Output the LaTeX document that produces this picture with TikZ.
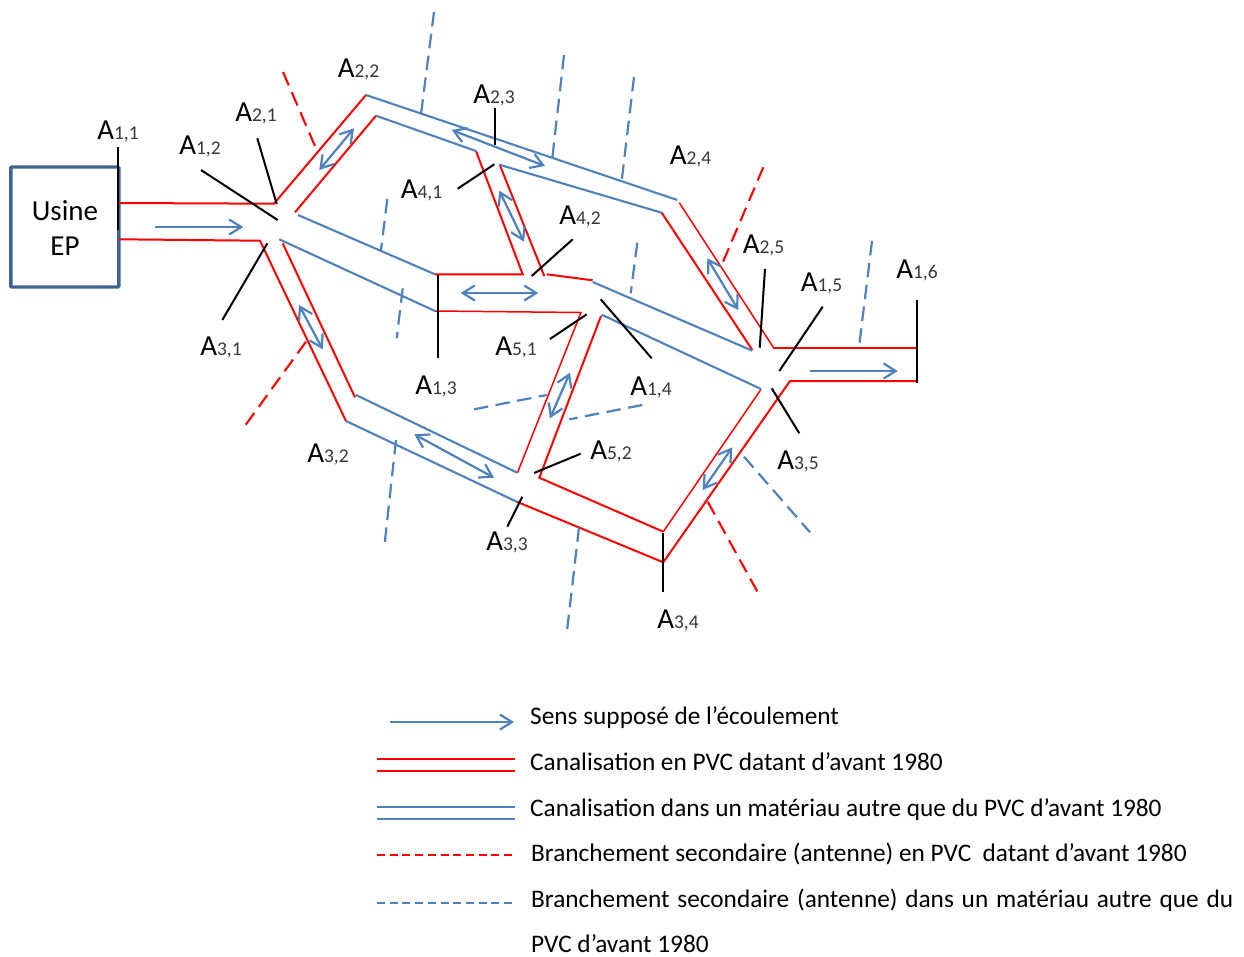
\documentclass[tikz,border=0pt]{standalone}
\usepackage{fontspec}
\setmainfont{Carlito}
\usetikzlibrary{arrows.meta}
\definecolor{pipeblue}{HTML}{4F81BD}
\definecolor{pipered}{HTML}{FF0000}
\definecolor{boxblue}{HTML}{3F6391}
\tikzset{
  redpipe/.style={draw=pipered,line width=2pt},
  thinred/.style={draw=pipered,line width=1.5pt},
  bluepipe/.style={draw=pipeblue,line width=2.1pt},
  reddash/.style={draw=pipered,line width=2.1pt,dash pattern=on 14.5pt off 7.5pt},
  bluedash/.style={draw=pipeblue,line width=2.2pt,dash pattern=on 14.5pt off 7.5pt},
  flowtip/.tip={Straight Barb[length=12pt,width=15pt,line width=2.2pt]},
  flow/.style={draw=pipeblue,line width=2.2pt,-flowtip},
  flowboth/.style={draw=pipeblue,line width=2.2pt,flowtip-flowtip},
  leader/.style={draw=black,line width=2pt},
  lab/.style={inner sep=0pt,font=\fontsize{29}{29}\selectfont},
  legend/.style={anchor=base west,inner sep=0pt,font=\fontsize{25.3}{25.3}\selectfont}
}
\newcommand{\An}[1]{A{\fontsize{19.5}{19.5}\selectfont\color{black!78}#1}}
\begin{document}
\begin{tikzpicture}[x=1pt,y=-1pt]
\useasboundingbox (0,0) rectangle (1244,956);
\fill[white] (0,0) rectangle (1244,956);
% plant
\node[draw=boxblue,line width=3.4pt,minimum width=108pt,minimum height=120pt,inner sep=0pt,rounded corners=1pt] (usine) at (64.8,227) {};
\node[lab,align=center] (usinetxt) at (65,228) {Usine\\[6pt]EP};
% red mains
\path[redpipe] (119,203) -- (274,203.7) -- (366,95);
\path[redpipe] (295,212.3) -- (376,115.7);
\path[redpipe] (119,239.3) -- (260,240.7) -- (346,421);
\path[redpipe] (282.7,243.3) -- (355,397.3);
\path[redpipe] (435,274.3) -- (522.7,274.3) -- (476,151);
\path[redpipe] (499.7,164.7) -- (544.3,276);
\path[redpipe] (546.7,274.3) -- (592.7,280.3);
\path[thinred] (435,311) -- (581,312.5) -- (517.5,472.7);
\path[redpipe] (601,316) -- (539.3,477.7) -- (663.3,531.7);
\path[thinred] (663.3,531.7) -- (761,389.3);
\path[redpipe] (516.7,501.7) -- (663.3,562.3) -- (790,381) -- (916.7,381);
\path[redpipe] (661.7,212.7) -- (752.3,350);
\path[thinred] (679.3,202.7) -- (773.3,347.3);
\path[redpipe] (772.7,347.7) -- (916.7,347.7);
% blue mains
\path[bluepipe] (366,95) -- (677.3,200);
\path[bluepipe] (376,115.7) -- (476,151);
\path[bluepipe] (499.3,164.7) -- (661.7,212.7);
\path[bluepipe] (298,215) -- (435,274.3);
\path[bluepipe] (279.3,239.3) -- (435,311);
\path[bluepipe] (356,395) -- (517.3,472.7);
\path[bluepipe] (346,421) -- (516.7,501.7);
\path[bluepipe] (592.7,282) -- (752.3,350.7);
\path[bluepipe] (601.7,314.7) -- (761,389);
% blue branches
\path[bluedash] (434,12) -- (421,114);
\path[bluedash] (564,55) -- (552.3,158.3);
\path[bluedash] (634,77) -- (621.7,180.7);
\path[bluedash] (387.3,199) -- (381,250);
\path[bluedash] (402.7,288.3) -- (396.7,338.3);
\path[bluedash] (637.3,242.7) -- (630.7,293.3);
\path[bluedash] (872,241) -- (859,347);
\path[bluedash] (396,440) -- (384.7,543.3);
\path[bluedash] (474,409.3) -- (546.7,395);
\path[bluedash] (642.3,405) -- (569.3,419.3);
\path[bluedash] (579,527.3) -- (567,631);
\path[bluedash] (744,456.7) -- (810,532.3);
% red branches
\path[reddash] (283,72) -- (316.7,150);
\path[reddash] (306,341.7) -- (244.3,426.7);
\path[reddash] (763.3,167.3) -- (721.7,265);
\path[reddash] (707.7,501.7) -- (758.3,593.3);
% flow arrows
\path[flow] (155,227) -- (243.3,227);
\path[flow] (810,371) -- (897.7,371);
\path[flowboth] (354,128.3) -- (319.3,170);
\path[flowboth] (299,305) -- (322.7,349.3);
\path[flowboth] (451.7,130) -- (545,166);
\path[flowboth] (499.3,190.7) -- (524,241.7);
\path[flowboth] (460.7,293) -- (538.3,293);
\path[flowboth] (707.3,258.3) -- (738.3,310);
\path[flowboth] (570,372.7) -- (550,418.3);
\path[flowboth] (414.3,434.3) -- (494,477.7);
\path[flowboth] (732.3,447.3) -- (702.7,490);
% leaders
\path[leader] (118.3,147) -- (118.3,230);
\path[leader] (201,170) -- (277.7,220);
\path[leader] (257.3,138.3) -- (276.7,204);
\path[leader] (222.3,320) -- (267.3,243.3);
\path[leader] (495,107.7) -- (495,145);
\path[leader] (457.7,188.7) -- (494.3,164.3);
\path[leader] (572.7,239.3) -- (531.7,276);
\path[leader] (438.3,275) -- (438.3,358.3);
\path[leader] (550,339) -- (586.7,314.3);
\path[leader] (600.7,299.3) -- (651.7,358.3);
\path[leader] (765,269) -- (759.7,347.7);
\path[leader] (822.7,306.7) -- (779.3,371);
\path[leader] (771.7,388.3) -- (799.3,433.3);
\path[leader] (917,300) -- (917,383.3);
\path[leader] (580.7,453.7) -- (534,473);
\path[leader] (522.3,496.7) -- (507.3,526.7);
\path[leader] (663.3,533.3) -- (663.3,591.7);
% labels
\node[lab] (a11) at (118,131.5) {\An{1,1}};
\node[lab] (a12) at (200,146.5) {\An{1,2}};
\node[lab] (a21) at (256,113.5) {\An{2,1}};
\node[lab] (a22) at (358.5,69.5) {\An{2,2}};
\node[lab] (a23) at (494,95.5) {\An{2,3}};
\node[lab] (a24) at (690.5,156.5) {\An{2,4}};
\node[lab] (a41) at (421.5,190.5) {\An{4,1}};
\node[lab] (a42) at (580,216.5) {\An{4,2}};
\node[lab] (a25) at (763.5,245.5) {\An{2,5}};
\node[lab] (a15) at (821.5,283.5) {\An{1,5}};
\node[lab] (a16) at (917,270.5) {\An{1,6}};
\node[lab] (a31) at (221,347.5) {\An{3,1}};
\node[lab] (a13) at (436,386.5) {\An{1,3}};
\node[lab] (a51) at (516,347.5) {\An{5,1}};
\node[lab] (a14) at (651,387.5) {\An{1,4}};
\node[lab] (a32) at (328,454.5) {\An{3,2}};
\node[lab] (a52) at (611,451.5) {\An{5,2}};
\node[lab] (a35) at (798,461.5) {\An{3,5}};
\node[lab] (a33) at (507,542.5) {\An{3,3}};
\node[lab] (a34) at (678,620.5) {\An{3,4}};
% legend
\path[flow] (390,722) -- (514,722);
\path[redpipe] (377,759) -- (515,759);
\path[redpipe] (377,771) -- (515,771);
\path[bluepipe] (377,807) -- (515,807);
\path[bluepipe] (377,819) -- (515,819);
\path[reddash,dash pattern=on 8pt off 4.7pt] (377,855) -- (515,855);
\path[bluedash,dash pattern=on 8pt off 4.7pt] (377,903) -- (515,903);
\node[legend] (l1) at (530,724) {Sens supposé de l’écoulement};
\node[legend] (l2) at (530,770) {Canalisation en PVC datant d’avant 1980};
\node[legend] (l3) at (530,816) {Canalisation dans un matériau autre que du PVC d’avant 1980};
\node[legend] (l4) at (531,861) {Branchement secondaire (antenne) en PVC\ \ datant d’avant 1980};
\node[legend] (l5) at (531,907) {\makebox[702pt][s]{Branchement secondaire (antenne) dans un matériau autre que du}};
\node[legend] (l6) at (531,952) {PVC d’avant 1980};
\end{tikzpicture}
\end{document}
